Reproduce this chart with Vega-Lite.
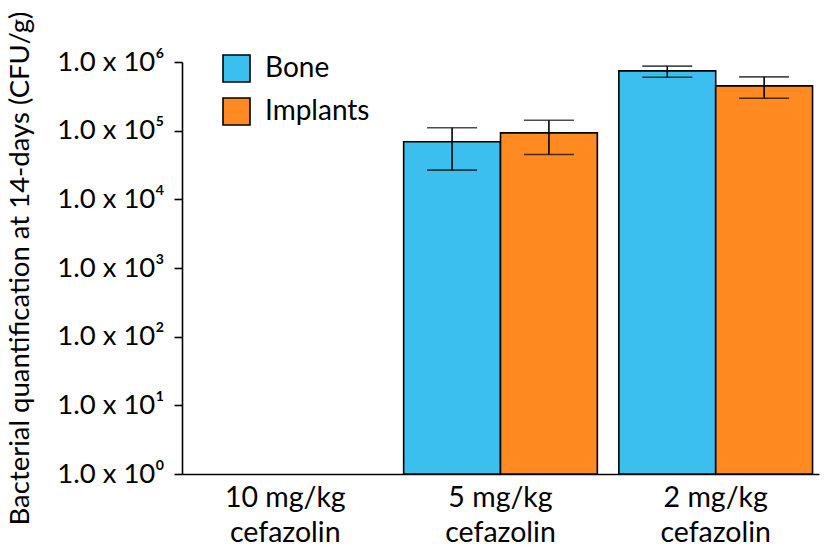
{
  "$schema": "https://vega.github.io/schema/vega-lite/v6.json",
  "width": 637,
  "height": 412,
  "autosize": "none",
  "padding": {"left": 182, "top": 62, "right": 7, "bottom": 75},
  "background": "white",
  "config": {
    "font": "Lato",
    "view": {"stroke": null},
    "axis": {"grid": false, "domainColor": "black", "domainWidth": 1.6, "tickColor": "black", "tickWidth": 1.6, "labelColor": "black", "titleColor": "black", "labelFont": "Lato", "titleFont": "Lato"}
  },
  "data": {
    "values": [
      {"dose": "5 mg/kg", "type": "Bone", "mean": 69000, "lo": 26600, "hi": 110000},
      {"dose": "5 mg/kg", "type": "Implants", "mean": 93000, "lo": 45000, "hi": 142000},
      {"dose": "2 mg/kg", "type": "Bone", "mean": 743000, "lo": 600000, "hi": 870000},
      {"dose": "2 mg/kg", "type": "Implants", "mean": 449000, "lo": 297000, "hi": 607000}
    ]
  },
  "encoding": {
    "x": {
      "field": "dose", "type": "nominal",
      "scale": {"domain": ["10 mg/kg", "5 mg/kg", "2 mg/kg"], "paddingInner": 0.1, "paddingOuter": 0.03},
      "axis": {"title": null, "labelAngle": 0, "ticks": false, "labelFontSize": 28.5, "labelPadding": 9, "labelLineHeight": 35, "labelExpr": "[datum.label, 'cefazolin']"}
    },
    "xOffset": {"field": "type", "type": "nominal", "scale": {"domain": ["Bone", "Implants"], "paddingInner": 0, "paddingOuter": 0}}
  },
  "layer": [
    {
      "mark": {"type": "bar", "stroke": "black", "strokeWidth": 1.6},
      "encoding": {
        "y": {
          "field": "mean", "type": "quantitative",
          "scale": {"type": "log", "domain": [1, 1000000], "nice": false},
          "axis": {
            "title": "Bacterial quantification at 14-days (CFU/g)",
            "titleFontSize": 27.5, "titleFontWeight": "normal", "titlePadding": 22,
            "values": [1, 10, 100, 1000, 10000, 100000, 1000000],
            "labelFontSize": 27.5, "tickSize": 8, "labelPadding": 10,
            "labelExpr": "'1.0 x 10' + ['⁰','¹','²','³','⁴','⁵','⁶'][round(log(datum.value)/LN10)]"
          }
        },
        "y2": {"datum": 1},
        "fill": {
          "field": "type", "type": "nominal",
          "scale": {"domain": ["Bone", "Implants"], "range": ["#3BBFEF", "#FF8A22"]},
          "legend": {
            "title": null, "orient": "none", "legendX": 40, "legendY": -8,
            "symbolType": "square", "symbolSize": 729, "symbolStrokeColor": "black", "symbolStrokeWidth": 1.6,
            "labelFontSize": 28, "labelColor": "black", "labelOffset": 14, "rowPadding": 8
          }
        }
      }
    },
    {
      "mark": {"type": "rule", "color": "black", "strokeWidth": 1.6},
      "encoding": {
        "y": {"field": "lo", "type": "quantitative"},
        "y2": {"field": "hi"}
      }
    },
    {
      "mark": {"type": "tick", "color": "black", "thickness": 1.6, "size": 50, "orient": "horizontal"},
      "encoding": {"y": {"field": "lo", "type": "quantitative"}}
    },
    {
      "mark": {"type": "tick", "color": "black", "thickness": 1.6, "size": 50, "orient": "horizontal"},
      "encoding": {"y": {"field": "hi", "type": "quantitative"}}
    }
  ]
}
